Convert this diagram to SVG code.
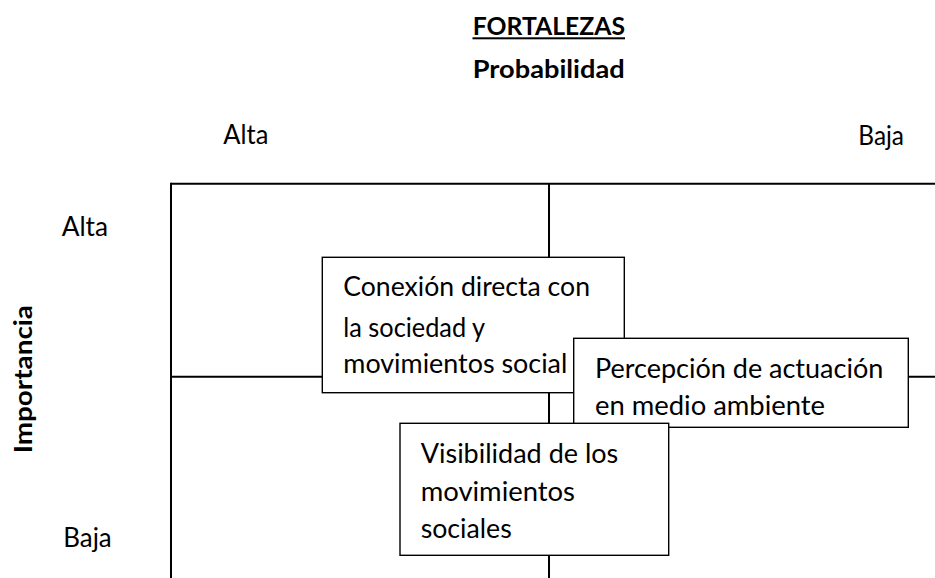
<svg xmlns="http://www.w3.org/2000/svg" width="935" height="578" viewBox="0 0 935 578">
<style>
  text { font-family: Lato, "Open Sans", "Liberation Sans", sans-serif; fill: #000; }
  .lbl { font-size: 26px; }
  .bold { font-size: 24.5px; font-weight: bold; }
  .grid { stroke: #000; stroke-width: 2; fill: none; }
  .box { fill: #fff; stroke: #000; stroke-width: 1.4; }
</style>
<rect width="935" height="578" fill="#fff"/>

<g id="titles">
  <text class="bold" x="472.7" y="35" textLength="152.3" lengthAdjust="spacingAndGlyphs">FORTALEZAS</text>
  <rect x="472.5" y="37.3" width="152.5" height="2" fill="#000"/>
  <text class="bold" x="472.7" y="78.3" textLength="152" lengthAdjust="spacingAndGlyphs">Probabilidad</text>
  <text class="lbl" x="223.3" y="144" textLength="45" lengthAdjust="spacingAndGlyphs">Alta</text>
  <text class="lbl" x="858.3" y="145" textLength="45.7" lengthAdjust="spacingAndGlyphs">Baja</text>
  <text class="lbl" x="61.7" y="236" textLength="46.3" lengthAdjust="spacingAndGlyphs">Alta</text>
  <text class="lbl" x="63.3" y="547.3" textLength="48.4" lengthAdjust="spacingAndGlyphs">Baja</text>
  <text class="bold" transform="translate(31.5,453.3) rotate(-90)" x="0" y="0" textLength="148.3" lengthAdjust="spacingAndGlyphs">Importancia</text>
</g>

<g id="grid" class="grid">
  <line x1="171" y1="183.7" x2="935" y2="183.7"/>
  <line x1="171" y1="182.7" x2="171" y2="578"/>
  <line x1="549" y1="183.7" x2="549" y2="578"/>
  <line x1="171" y1="376.7" x2="935" y2="376.7"/>
</g>

<g id="node-conexion">
  <rect class="box" x="322.3" y="257.3" width="302" height="135.4"/>
  <text class="lbl" x="343.3" y="296" textLength="246.7" lengthAdjust="spacingAndGlyphs">Conexión directa con</text>
  <text class="lbl" x="343.3" y="336.7" textLength="141.7" lengthAdjust="spacingAndGlyphs">la sociedad y</text>
  <text class="lbl" x="343.3" y="373" textLength="224" lengthAdjust="spacingAndGlyphs">movimientos social</text>
</g>

<g id="node-percepcion">
  <rect class="box" x="573.7" y="338.3" width="334.6" height="89"/>
  <text class="lbl" x="595" y="378.3" textLength="288.3" lengthAdjust="spacingAndGlyphs">Percepción de actuación</text>
  <text class="lbl" x="595" y="415" textLength="230" lengthAdjust="spacingAndGlyphs">en medio ambiente</text>
</g>

<g id="node-visibilidad">
  <rect class="box" x="400" y="423.3" width="268.7" height="132"/>
  <text class="lbl" x="420.7" y="462.7" textLength="197.6" lengthAdjust="spacingAndGlyphs">Visibilidad de los</text>
  <text class="lbl" x="420.7" y="501" textLength="154.3" lengthAdjust="spacingAndGlyphs">movimientos</text>
  <text class="lbl" x="420.7" y="538.3" textLength="91" lengthAdjust="spacingAndGlyphs">sociales</text>
</g>
</svg>
